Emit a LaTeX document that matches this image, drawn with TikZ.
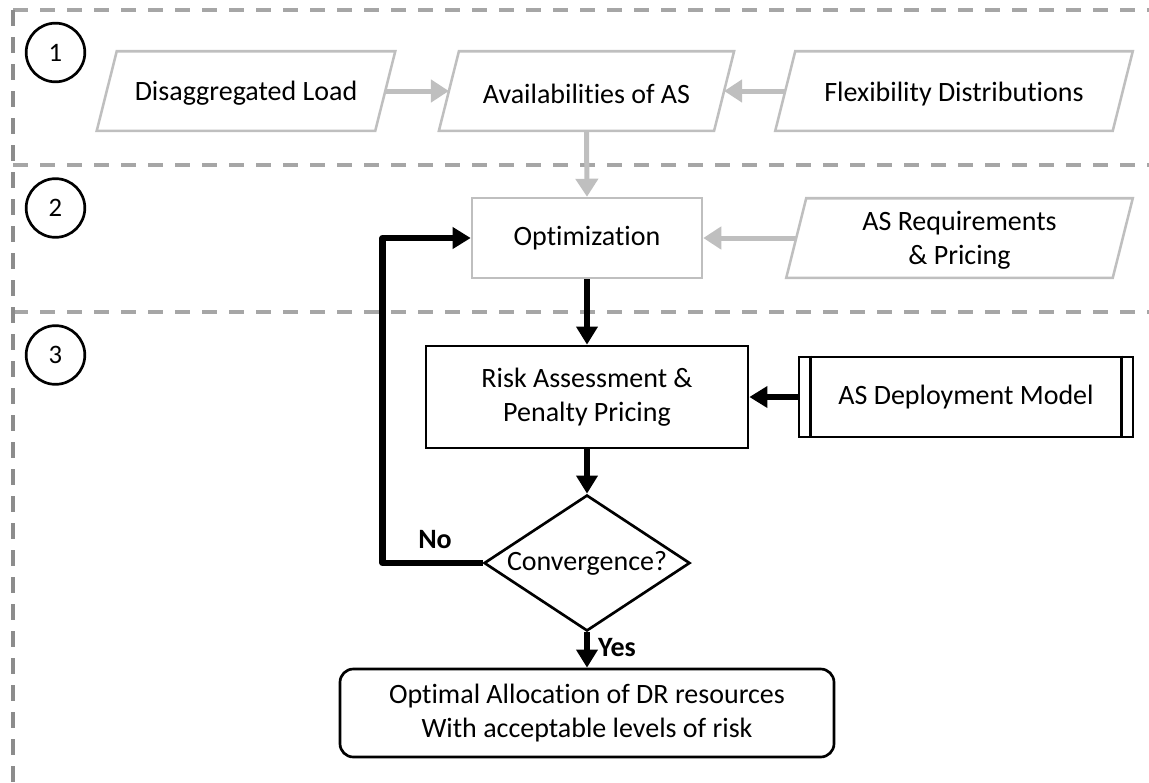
\documentclass[tikz,border=0pt]{standalone}
\usepackage{fontspec}
\setmainfont{Carlito}[Ligatures=NoCommon]
\usetikzlibrary{arrows.meta,shapes.geometric,calc}
\definecolor{dashgray}{HTML}{A6A6A6}
\definecolor{dashdark}{HTML}{8C8C8C}
\definecolor{lightedge}{HTML}{BFBFBF}

% outline of a slanted input box around a rectangular text node
\newcommand\paraoutline[1]{%
  \draw[lightedge, line width=1.9pt, line join=miter, fill=white]
    ([xshift=-7.5pt]#1.south west) -- ([xshift=7.5pt]#1.north west) --
    ([xshift=7.5pt]#1.north east) -- ([xshift=-7.5pt]#1.south east) -- cycle;}

\begin{document}
\begin{tikzpicture}[x=0.75pt,y=-0.75pt,
  every node/.style={font=\fontsize{21}{25.5}\selectfont, inner sep=0pt, align=center},
  sepline/.style={dashgray, line width=2.6pt, dash pattern=on 11.25pt off 9pt},
  sepside/.style={dashdark, line width=2.6pt, dash pattern=on 12pt off 8.25pt},
  numcircle/.style={circle, draw, line width=2pt, minimum size=44pt,
    font=\fontsize{20}{22}\selectfont},
  slantbox/.style={minimum height=59.25pt},
  graybox/.style={draw=lightedge, line width=1.9pt, fill=white},
  blackbox/.style={draw=black, line width=2pt, fill=white},
  grayarrow/.style={lightedge, line width=3.75pt,
    -{Triangle[length=13.5pt,width=16.5pt]}},
  blackarrow/.style={black, line width=4.9pt, line join=round,
    -{Triangle[length=13.5pt,width=15.5pt]}},
  tag/.style={font=\fontsize{21}{25.5}\selectfont\bfseries},
]
\useasboundingbox (0,0) rectangle (1149,782);

% section separators
\draw[sepline] (13,10) -- (1149,10);
\draw[sepline] (13,165) -- (1149,165);
\draw[sepline] (13,312) -- (1149,312);
\draw[sepside] (13,10) -- (13,782);

% section numbers
\node[numcircle] (s1) at (55.5,52.5) {1};
\node[numcircle] (s2) at (55.5,208) {2};
\node[numcircle] (s3) at (55.5,355) {3};

% stage 1 inputs
\node[slantbox, minimum width=208.5pt] (dis) at (246,91) {};
\paraoutline{dis}
\node at ([yshift=-2pt]dis.center) {Disaggregated Load};
\node[slantbox, minimum width=206pt] (avail) at (586.5,91) {};
\paraoutline{avail}
\node at ([yshift=-2pt]avail.center) {Availabilities of AS};
\node[slantbox, minimum width=252.75pt] (flex) at (954,91) {};
\paraoutline{flex}
\node at ([yshift=-2pt]flex.center) {Flexibility Distributions};

% stage 2
\node[graybox, minimum width=172.5pt, minimum height=60pt] (opt) at (587,238) {Optimization};
\node[slantbox, minimum width=244.5pt] (req) at (959.5,238) {};
\paraoutline{req}
\node at ([yshift=-2pt]req.center) {AS Requirements\\\& Pricing};

% stage 3
\node[blackbox, minimum width=241.5pt, minimum height=76.5pt] (risk) at (587,397)
  {Risk Assessment \&\\Penalty Pricing};
\node[blackbox, minimum width=250.5pt, minimum height=60pt] (dep) at (966,397)
  {AS Deployment Model};
\draw[line width=2pt] ([xshift=9.75pt]dep.north west) -- ([xshift=9.75pt]dep.south west);
\draw[line width=2pt] ([xshift=-9.75pt]dep.north east) -- ([xshift=-9.75pt]dep.south east);
\node[diamond, blackbox, aspect=1.5, minimum width=154.5pt, minimum height=102pt] (conv)
  at (587,563) {Convergence?};
\node[blackbox, rounded corners=10pt, minimum width=370.5pt, minimum height=66pt] (fin)
  at (587,713) {Optimal Allocation of DR resources\\With acceptable levels of risk};

% data flow
\draw[grayarrow] (dis.east) -- (avail.west);
\draw[grayarrow] (flex.west) -- (avail.east);
\draw[grayarrow] (avail.south) -- (opt.north);
\draw[grayarrow] (req.west) -- (opt.east);

% control flow
\draw[blackarrow] (opt.south) -- (risk.north);
\draw[blackarrow] (dep.west) -- (risk.east);
\draw[blackarrow] (risk.south) -- (conv.north);
\draw[blackarrow] (conv.west) -- ++(-100,0) |- (opt.west);
\draw[blackarrow] (conv.south) -- (fin.north);

% decision labels
\node[tag] (no) at (435,540) {No};
\node[tag] (yes) at (617,648) {Yes};
\end{tikzpicture}
\end{document}
